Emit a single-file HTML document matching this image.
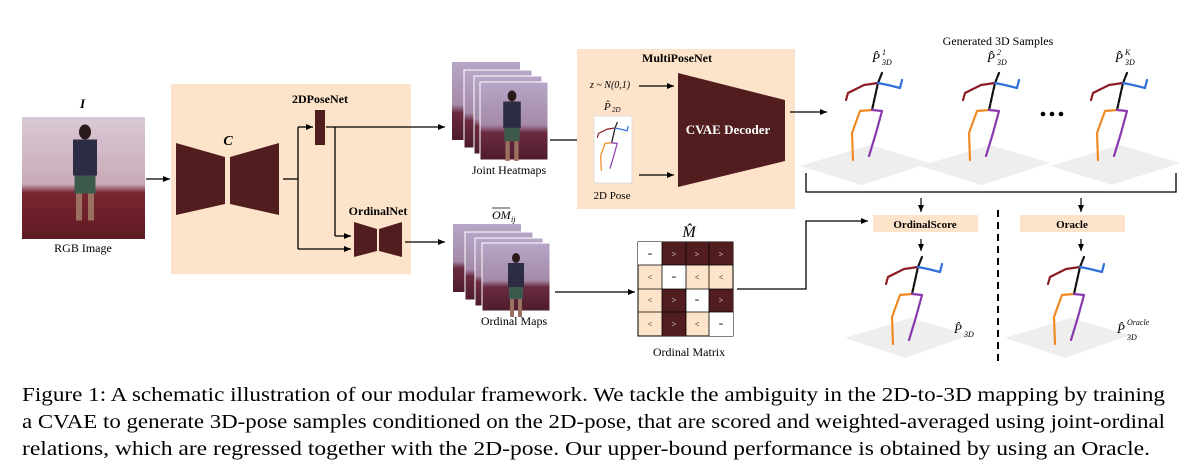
<!DOCTYPE html>
<html><head><meta charset="utf-8"><style>
html,body{margin:0;padding:0;background:#fff;}
svg{display:block;}
text{font-family:"Liberation Serif",serif;}
</style></head><body>
<svg width="1186" height="473" viewBox="0 0 1186 473" xmlns="http://www.w3.org/2000/svg">
<defs>
<marker id="a" markerWidth="8" markerHeight="8" refX="7" refY="4" orient="auto" markerUnits="userSpaceOnUse"><path d="M0,1 L7,4 L0,7 Z" fill="#000"/></marker>
<linearGradient id="room" x1="0" y1="0" x2="0" y2="1">
<stop offset="0" stop-color="#d9c9d6"/><stop offset="0.55" stop-color="#c9aab8"/><stop offset="0.62" stop-color="#7a2530"/><stop offset="1" stop-color="#5e1a22"/></linearGradient>
<linearGradient id="room2" x1="0" y1="0" x2="0" y2="1">
<stop offset="0" stop-color="#b7a6c7"/><stop offset="0.55" stop-color="#a48aa8"/><stop offset="0.65" stop-color="#6a2a40"/><stop offset="1" stop-color="#4e1c2c"/></linearGradient>
<g id="skel" fill="none" stroke-width="2.2" stroke-linecap="round" stroke-linejoin="round">
<path d="M4,-10 L0,0 L-6,27" stroke="#111" stroke-dasharray="5,1.5"/>
<path d="M0,0 L-14,2 L-30,10 L-32,17" stroke="#8b1c24"/>
<path d="M0,0 L10,2 L22,5 L24,-3" stroke="#2f6fd6"/>
<path d="M-6,27 L-18,28 L-26,50 L-25,77" stroke="#f08a24"/>
<path d="M-6,27 L4,28 L-2,50 L-9,73" stroke="#8a3ab0"/>
</g>
<g id="man"><ellipse cx="0" cy="0" rx="4" ry="5" fill="#2a1a1a"/><rect x="-8" y="5" width="16" height="24" fill="#2c2c45"/><rect x="-7" y="29" width="14" height="12" fill="#3c5a4c"/><rect x="-6" y="41" width="4" height="18" fill="#9a7060"/><rect x="2" y="41" width="4" height="18" fill="#9a7060"/></g>
</defs>

<!-- RGB image -->
<text x="80" y="108" font-size="13" font-style="italic" font-weight="bold">I</text>
<rect x="22" y="117" width="123" height="122" fill="url(#room)"/>
<use href="#man" transform="translate(85,132) scale(1.5)"/>
<text x="83" y="252" font-size="12" text-anchor="middle">RGB Image</text>
<line x1="146" y1="179" x2="170" y2="179" stroke="#000" stroke-width="1.3" marker-end="url(#a)"/>

<!-- Peach box -->
<rect x="171" y="84" width="240" height="190" fill="#fde3c9"/>
<text x="228" y="145" font-size="14" font-style="italic" font-weight="bold" text-anchor="middle">C</text>
<polygon points="176,143 225,157 225,204 176,215" fill="#521d1f"/>
<polygon points="230,157 279,143 279,215 230,204" fill="#521d1f"/>
<g stroke="#000" stroke-width="1.3" fill="none">
<line x1="283" y1="179" x2="298" y2="179"/>
<line x1="298" y1="127" x2="298" y2="249"/>
<line x1="298" y1="127" x2="313" y2="127" marker-end="url(#a)"/>
<line x1="298" y1="249" x2="351" y2="249" marker-end="url(#a)"/>
<line x1="326" y1="127" x2="445" y2="127" marker-end="url(#a)"/>
<line x1="335" y1="127" x2="335" y2="236"/>
<line x1="335" y1="236" x2="351" y2="236" marker-end="url(#a)"/>
<line x1="405" y1="242" x2="445" y2="242" marker-end="url(#a)"/>
</g>
<rect x="315" y="110" width="10" height="35" fill="#521d1f"/>
<text x="320" y="103" font-size="12" font-weight="bold" text-anchor="middle">2DPoseNet</text>
<polygon points="354,222 377,229 377,251 354,257" fill="#521d1f"/>
<polygon points="379,229 402,222 402,257 379,251" fill="#521d1f"/>
<text x="378" y="215" font-size="12" font-weight="bold" text-anchor="middle">OrdinalNet</text>

<!-- heatmap stacks -->
<g>
<rect x="452" y="62" width="68" height="78" fill="url(#room2)"/>
<rect x="464" y="70" width="68" height="78" fill="url(#room2)" stroke="#fff" stroke-width="1"/>
<rect x="474" y="76" width="68" height="78" fill="url(#room2)" stroke="#fff" stroke-width="1"/>
<rect x="480" y="82" width="68" height="78" fill="url(#room2)" stroke="#fff" stroke-width="1"/>
<use href="#man" transform="translate(512,96) scale(1.1)"/>
</g>
<text x="509" y="174" font-size="12" text-anchor="middle">Joint Heatmaps</text>
<g>
<rect x="453" y="224" width="68" height="68" fill="url(#room2)"/>
<rect x="465" y="232" width="68" height="68" fill="url(#room2)" stroke="#fff" stroke-width="1"/>
<rect x="475" y="238" width="68" height="68" fill="url(#room2)" stroke="#fff" stroke-width="1"/>
<rect x="482" y="243" width="68" height="68" fill="url(#room2)" stroke="#fff" stroke-width="1"/>
<use href="#man" transform="translate(516,258) scale(1)"/>
</g>
<text x="492" y="219" font-size="12" font-style="italic">OM</text><line x1="492" y1="208" x2="510" y2="208" stroke="#000" stroke-width="0.8"/><text x="511" y="222" font-size="8" font-style="italic">ij</text>
<text x="514" y="325" font-size="12" text-anchor="middle">Ordinal Maps</text>
<line x1="550" y1="140" x2="590" y2="140" stroke="#000" stroke-width="1.3" marker-end="url(#a)"/>
<line x1="555" y1="292" x2="635" y2="292" stroke="#000" stroke-width="1.3" marker-end="url(#a)"/>

<!-- MultiPoseNet -->
<rect x="577" y="49" width="218" height="160" fill="#fde3c9"/>
<text x="677" y="62" font-size="12" font-weight="bold" text-anchor="middle">MultiPoseNet</text>
<text x="590" y="88" font-size="10" font-style="italic">z ~ N(0,1)</text>
<line x1="639" y1="86" x2="674" y2="86" stroke="#000" stroke-width="1.2" marker-end="url(#a)"/>
<line x1="639" y1="175" x2="674" y2="175" stroke="#000" stroke-width="1.2" marker-end="url(#a)"/>
<text x="604" y="110" font-size="11" font-style="italic">P̂</text><text x="612" y="112" font-size="7" font-style="italic">2D</text>
<rect x="594" y="116" width="38" height="67" fill="#fff" stroke="#ddd"/>
<use href="#skel" transform="translate(615,128) scale(0.55)"/>
<text x="612" y="199" font-size="11" text-anchor="middle" font-family="Liberation Sans">2D Pose</text>
<polygon points="678,73 785,100 785,161 678,187" fill="#521d1f"/>
<text x="728" y="134" font-size="13" font-weight="bold" fill="#fff" text-anchor="middle">CVAE Decoder</text>
<line x1="790" y1="112" x2="827" y2="112" stroke="#000" stroke-width="1.3" marker-end="url(#a)"/>

<!-- samples -->
<text x="998" y="45" font-size="12" text-anchor="middle">Generated 3D Samples</text>
<g fill="#eee">
<polygon points="800,166 870,145 930,163 862,185"/>
<polygon points="920,166 990,145 1050,163 982,185"/>
<polygon points="1050,166 1120,145 1180,163 1112,185"/>
<polygon points="845,338 910,318 970,335 905,358"/>
<polygon points="1005,338 1070,318 1130,335 1065,358"/>
</g>
<use href="#skel" transform="translate(878,83)"/>
<use href="#skel" transform="translate(995,83)"/>
<use href="#skel" transform="translate(1123,83)"/>
<use href="#skel" transform="translate(918,267)"/>
<use href="#skel" transform="translate(1080,267)"/>
<g font-size="13" font-style="italic">
<text x="872" y="62">P̂</text><text x="882" y="55" font-size="8">1</text><text x="882" y="65" font-size="8">3D</text>
<text x="987" y="62">P̂</text><text x="997" y="55" font-size="8">2</text><text x="997" y="65" font-size="8">3D</text>
<text x="1115" y="62">P̂</text><text x="1125" y="55" font-size="8">K</text><text x="1125" y="65" font-size="8">3D</text>
<text x="954" y="333">P̂</text><text x="964" y="337" font-size="8">3D</text>
<text x="1117" y="333">P̂</text><text x="1127" y="325" font-size="8">Oracle</text><text x="1127" y="340" font-size="8">3D</text>
</g>
<circle cx="1043" cy="114" r="2.3"/><circle cx="1052" cy="114" r="2.3"/><circle cx="1061" cy="114" r="2.3"/>
<path d="M806,173 V192 H1176 V173" fill="none" stroke="#000" stroke-width="1.3"/>
<g stroke="#000" stroke-width="1.2">
<line x1="921" y1="198" x2="921" y2="212" marker-end="url(#a)"/>
<line x1="1081" y1="198" x2="1081" y2="212" marker-end="url(#a)"/>
<line x1="921" y1="239" x2="921" y2="251" marker-end="url(#a)"/>
<line x1="1081" y1="239" x2="1081" y2="251" marker-end="url(#a)"/>
<line x1="998" y1="210" x2="998" y2="363" stroke-width="2" stroke-dasharray="7,5"/>
</g>
<rect x="873" y="215" width="105" height="17" fill="#fde3c9"/>
<text x="925" y="228" font-size="11" font-weight="bold" text-anchor="middle">OrdinalScore</text>
<rect x="1020" y="215" width="105" height="17" fill="#fde3c9"/>
<text x="1072" y="228" font-size="11" font-weight="bold" text-anchor="middle">Oracle</text>

<!-- Matrix -->
<text x="689" y="237" font-size="16" font-style="italic" text-anchor="middle">M̂</text>
<g font-size="8" font-family="Liberation Sans" text-anchor="middle">
<rect x="638" y="242" width="95" height="94" fill="#fde3c9" stroke="#000" stroke-width="1"/>
<g fill="#521d1f">
<rect x="662" y="242" width="24" height="23"/><rect x="686" y="242" width="23" height="23"/><rect x="709" y="242" width="24" height="23"/>
<rect x="662" y="289" width="24" height="23"/><rect x="709" y="289" width="24" height="23"/>
<rect x="662" y="312" width="24" height="24"/>
</g>
<g fill="#fff">
<rect x="638" y="242" width="24" height="23"/><rect x="662" y="265" width="24" height="24"/><rect x="686" y="289" width="23" height="23"/><rect x="709" y="312" width="24" height="24"/>
</g>
<g fill="none" stroke="#000" stroke-width="0.8"><path d="M662,242V336M686,242V336M709,242V336M638,265H733M638,289H733M638,312H733"/></g>
<text x="650" y="257">=</text><text x="674" y="257" fill="#fff">&gt;</text><text x="697" y="257" fill="#fff">&gt;</text><text x="721" y="257" fill="#fff">&gt;</text>
<text x="650" y="280">&lt;</text><text x="674" y="280">=</text><text x="697" y="280">&lt;</text><text x="721" y="280">&lt;</text>
<text x="650" y="303">&lt;</text><text x="674" y="303" fill="#fff">&gt;</text><text x="697" y="303">=</text><text x="721" y="303" fill="#fff">&gt;</text>
<text x="650" y="327">&lt;</text><text x="674" y="327" fill="#fff">&gt;</text><text x="697" y="327">&lt;</text><text x="721" y="327">=</text>
</g>
<text x="689" y="356" font-size="12" text-anchor="middle">Ordinal Matrix</text>
<path d="M737,289 H806 V221 H868" fill="none" stroke="#000" stroke-width="1.3" marker-end="url(#a)"/>

<!-- caption -->
<g font-size="20">
<text x="22" y="401" textLength="1143" lengthAdjust="spacingAndGlyphs">Figure 1: A schematic illustration of our modular framework. We tackle the ambiguity in the 2D-to-3D mapping by training</text>
<text x="22" y="428" textLength="1143" lengthAdjust="spacingAndGlyphs">a CVAE to generate 3D-pose samples conditioned on the 2D-pose, that are scored and weighted-averaged using joint-ordinal</text>
<text x="22" y="455" textLength="1128" lengthAdjust="spacingAndGlyphs">relations, which are regressed together with the 2D-pose. Our upper-bound performance is obtained by using an Oracle.</text>
</g>
</svg>
</body></html>
